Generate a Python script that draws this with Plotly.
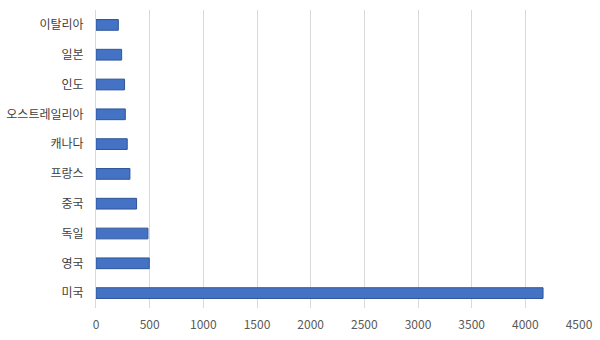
import plotly.graph_objects as go

countries = ["미국", "영국", "독일", "중국", "프랑스", "캐나다", "오스트레일리아", "인도", "일본", "이탈리아"]
values = [4165, 496, 484, 378, 316, 291, 273, 266, 239, 208]
x_ticks = [0, 500, 1000, 1500, 2000, 2500, 3000, 3500, 4000, 4500]

fig = go.Figure(go.Bar(
    y=countries, x=values, orientation="h",
    marker=dict(color="#4472C4", line=dict(color="#2F5597", width=1)),
))
fig.update_layout(
    width=600, height=340,
    margin=dict(l=96, r=21, t=10, b=32),
    paper_bgcolor="white", plot_bgcolor="white",
    bargap=0.64,
    showlegend=False,
    font=dict(family="Noto Sans CJK KR", size=12, color="#595959"),
)
fig.update_xaxes(
    range=[0, 4500], tickvals=x_ticks, ticktext=[str(t) for t in x_ticks],
    showgrid=True, gridcolor="#D9D9D9", gridwidth=1,
    zeroline=False,
    showline=False, ticks="", automargin=False,
    ticklabelstandoff=8,
    tickfont=dict(size=12, color="#595959"),
)
fig.update_yaxes(
    categoryorder="array", categoryarray=countries,
    showgrid=False, zeroline=False,
    showline=True, linecolor="#D9D9D9", linewidth=1,
    ticks="",
    automargin=False, ticklabelstandoff=9,
    tickfont=dict(size=12, color="#404040"),
)
fig.write_html("out.html")
